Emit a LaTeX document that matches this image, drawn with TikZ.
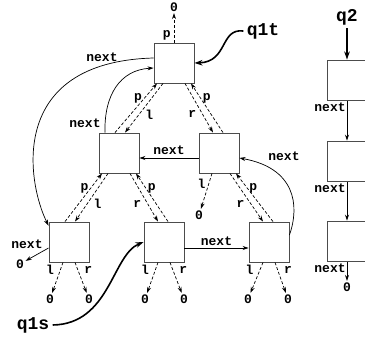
\documentclass[tikz,border=0pt]{standalone}
\usepackage{fontspec}
\setmonofont{Liberation Mono}
\usetikzlibrary{arrows.meta}
\newcommand{\lab}{\ttfamily\bfseries\fontsize{13bp}{13bp}\selectfont}
\newcommand{\qlab}{\ttfamily\bfseries\fontsize{18bp}{18bp}\selectfont}
\tikzset{
  cell/.style={draw=black!70,line width=0.9bp,minimum size=40bp,inner sep=0pt},
  nil/.style={font=\lab,inner sep=1.5bp},
  lbl/.style={font=\lab,inner sep=1bp},
  ptr/.style={-{Stealth[length=6bp,width=4bp]},line width=0.7bp},
  dptr/.style={ptr,dash pattern=on 3bp off 2bp},
  handle/.style={-{Stealth[length=8bp,width=5.5bp]},line width=1.6bp},
}
\begin{document}
\begin{tikzpicture}[x=1bp,y=-1bp]
\useasboundingbox (0,0) rectangle (365,338);
% the tree
\node[cell] (top) at (174,63) {};
\node[cell] (ml) at (119,153) {};
\node[cell] (mr) at (219,153) {};
\node[cell] (bl) at (69,242) {};
\node[cell] (bm) at (164,242) {};
\node[cell] (br) at (269,242) {};
% the list
\node[cell] (la) at (347,80) {};
\node[cell] (lb) at (347,161) {};
\node[cell] (lc) at (347,241) {};

\node[nil] (z0) at (174,7) {0};
\node[nil] (z1) at (199,215) {0};
\node[nil] (z2) at (20,264) {0};
\node[nil] (z3) at (50,299) {0};
\node[nil] (z4) at (89,299) {0};
\node[nil] (z5) at (145,299) {0};
\node[nil] (z6) at (184,299) {0};
\node[nil] (z7) at (248,299) {0};
\node[nil] (z8) at (288,299) {0};
\node[nil] (z9) at (347,287) {0};

\node[font=\qlab] (q1t) at (263,31) {q1t};
\node[font=\qlab] (q1s) at (33,325) {q1s};
\node[font=\qlab] (q2) at (347,17) {q2};

% parent links
\draw[dptr] (top.north) -- node[lbl,pos=.25,left=2bp] {p} (z0);
\foreach \up/\dn in {top/ml, ml/bl} {
  \draw[dptr] ([xshift=-4bp]\dn.north) -- node[lbl,pos=.7,left=1bp] {p} ([xshift=-17bp]\up.south);
  \draw[dptr] ([xshift=-11bp]\up.south) -- node[lbl,pos=.63,right=5bp] {l} ([xshift=6bp]\dn.north);
}
\foreach \up/\dn in {top/mr, ml/bm, mr/br} {
  \draw[dptr] ([xshift=11bp]\up.south) -- node[lbl,pos=.63,left=5bp] {r} ([xshift=-6bp]\dn.north);
  \draw[dptr] ([xshift=4bp]\dn.north) -- node[lbl,pos=.7,right=1bp] {p} ([xshift=17bp]\up.south);
}
\draw[dptr] ([xshift=-7bp]mr.south) -- node[lbl,pos=.3,left=2bp] {l} (z1);

% leaves
\draw[dptr] ([xshift=-6bp]bl.south) -- node[lbl,pos=.25,left=5bp] {l} (z3);
\draw[dptr] ([xshift=6bp]bl.south) -- node[lbl,pos=.25,right=5bp] {r} (z4);
\draw[dptr] ([xshift=-6bp]bm.south) -- node[lbl,pos=.25,left=5bp] {l} (z5);
\draw[dptr] ([xshift=6bp]bm.south) -- node[lbl,pos=.25,right=5bp] {r} (z6);
\draw[dptr] ([xshift=-6bp]br.south) -- node[lbl,pos=.25,left=5bp] {l} (z7);
\draw[dptr] ([xshift=6bp]br.south) -- node[lbl,pos=.25,right=5bp] {r} (z8);

% next links
\draw[ptr] ([yshift=5bp]top.west) .. controls (5,62) and (28,185) .. ([yshift=-4bp]bl.north west);
\node[lbl] at (102,57) {next};
\draw[ptr] ([xshift=-14bp]ml.north) .. controls (104,95) and (120,70) .. ([yshift=-5bp]top.west);
\node[lbl] at (85,123) {next};
\draw[ptr] ([yshift=-5bp]mr.west) -- node[lbl,above=2bp] {next} ([yshift=-5bp]ml.east);
\draw[ptr] ([yshift=7bp]br.east) .. controls (300,205) and (295,168) .. ([yshift=-5bp]mr.east);
\node[lbl] at (284,156) {next};
\draw[ptr] ([yshift=-6bp]bm.east) -- node[lbl,above=1bp] {next} ([yshift=-6bp]br.west);
\draw[ptr] ([yshift=-6bp]bl.west) -- (z2);
\node[lbl] at (27,244) {next};

% list
\draw[ptr] ([yshift=-1bp]la.south) -- node[lbl,pos=0,anchor=north east] {next} (lb.north);
\draw[ptr] ([yshift=-1bp]lb.south) -- node[lbl,pos=0,anchor=north east] {next} (lc.north);
\draw[ptr] ([yshift=-1bp]lc.south) -- node[lbl,pos=0,anchor=north east] {next} (z9);

% handles
\draw[handle] (q1t.west) .. controls (220,28) and (228,62) .. (top.east);
\draw[handle] (q1s.east) .. controls (110,324) and (112,255) .. (bm.west);
\draw[handle] (q2.south) -- (la.north);
\end{tikzpicture}
\end{document}
